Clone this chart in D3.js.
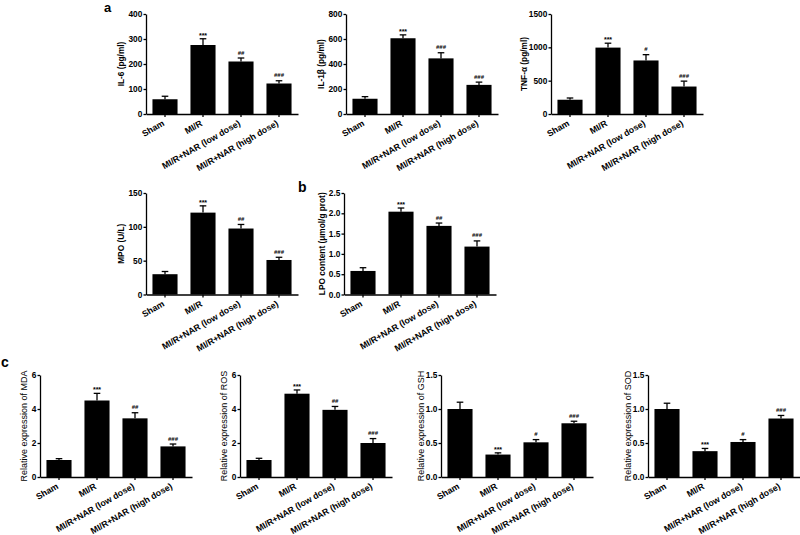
<!DOCTYPE html>
<html>
<head>
<meta charset="utf-8">
<script src="https://cdn.jsdelivr.net/npm/d3@7/dist/d3.min.js"></script>
<style>
	body { margin: 0; background: #fff; }
	svg { display: block; font-family: "Liberation Sans", Arial, sans-serif; }
	.axis path, .axis line { stroke: #000; stroke-width: 1.3; }
	.axis text { font-size: 8.3px; font-weight: bold; fill: #000; }
</style>
</head>
<body>
<svg id="chart" width="800" height="535"></svg>
<script>
	// groups on the x axis of every panel
	var groups = ["Sham", "MI/R", "MI/R+NAR (low dose)", "MI/R+NAR (high dose)"];

	// mean values and (upper) error per panel
	var il6 = [59, 276, 210, 122];
	var il6Err = [12, 25, 14, 11];
	var il1b = [122, 606, 445, 233];
	var il1bErr = [17, 27, 45, 22];
	var tnf = [214, 996, 803, 412];
	var tnfErr = [26, 66, 87, 81];
	var mpo = [30, 121, 97.5, 51];
	var mpoErr = [4, 10, 6, 4];
	var lpo = [0.58, 2.04, 1.69, 1.18];
	var lpoErr = [0.08, 0.09, 0.07, 0.14];
	var mda = [1.0, 4.5, 3.45, 1.8];
	var mdaErr = [0.08, 0.42, 0.33, 0.14];
	var ros = [1.0, 4.9, 3.95, 2.0];
	var rosErr = [0.1, 0.22, 0.2, 0.26];
	var gsh = [1.0, 0.33, 0.51, 0.79];
	var gshErr = [0.1, 0.025, 0.04, 0.03];
	var sod = [1.0, 0.38, 0.515, 0.86];
	var sodErr = [0.085, 0.04, 0.035, 0.045];

	// significance marks
	var marksA = ["", "***", "##", "###"];
	var marksB = ["", "***", "###", "###"];
	var marksC = ["", "***", "#", "###"];

	// tick labels
	var il6Ticks = [0, 100, 200, 300, 400];
	var il1bTicks = [0, 200, 400, 600, 800];
	var tnfTicks = [0, 500, 1000, 1500];
	var mpoTicks = [0, 50, 100, 150];
	var lpoTicks = [0, 0.5, 1.0, 1.5, 2.0, 2.5];
	var relTicks = [0, 2, 4, 6];
	var ratioTicks = [0, 0.5, 1.0, 1.5];

	var svg = d3.select("#chart");

	var rows = [
		{top: 14, bottom: 114, bold: true},
		{top: 193, bottom: 294.5, bold: true},
		{top: 375, bottom: 477, bold: false}
	];

	var panels = [
		{row: 0, left: 146, gap: 25, label: "IL-6 (pg/ml)", v: il6, e: il6Err, m: marksA, ticks: il6Ticks, fmt: "d"},
		{row: 0, left: 346, gap: 25, label: "IL-1β (pg/ml)", v: il1b, e: il1bErr, m: marksB, ticks: il1bTicks, fmt: "d"},
		{row: 0, left: 551, gap: 27, label: "TNF-α (pg/ml)", v: tnf, e: tnfErr, m: marksC, ticks: tnfTicks, fmt: "d"},
		{row: 1, left: 146, gap: 25, label: "MPO (U/L)", v: mpo, e: mpoErr, m: marksA, ticks: mpoTicks, fmt: "d"},
		{row: 1, left: 344, gap: 22, label: "LPO content (μmol/g prot)", v: lpo, e: lpoErr, m: marksA, ticks: lpoTicks, fmt: ".1f"},
		{row: 2, left: 40, gap: 16, label: "Relative expression of MDA", v: mda, e: mdaErr, m: marksA, ticks: relTicks, fmt: "d"},
		{row: 2, left: 240, gap: 16, label: "Relative expression of ROS", v: ros, e: rosErr, m: marksA, ticks: relTicks, fmt: "d"},
		{row: 2, left: 441, gap: 20, label: "Relative expression of GSH", v: gsh, e: gshErr, m: marksC, ticks: ratioTicks, fmt: ".1f"},
		{row: 2, left: 648, gap: 20, label: "Relative expression of SOD", v: sod, e: sodErr, m: marksC, ticks: ratioTicks, fmt: ".1f"}
	];

	function drawPanel(p) {
		var r = rows[p.row];
		var x = d3.scaleBand()
			.domain(groups)
			.range([p.left, p.left + 152])
			.paddingInner(0.34)
			.paddingOuter(0.17);
		var y = d3.scaleLinear()
			.domain([0, d3.max(p.ticks)])
			.range([r.bottom, r.top]);

		var g = svg.append("g");
		var w = x.bandwidth();

		//bars
		g.selectAll("rect")
			.data(p.v)
			.enter().append("rect")
			.attr("x", function(d, i) { return x(groups[i]); })
			.attr("y", function(d) { return y(d); })
			.attr("width", w)
			.attr("height", function(d) { return y(0) - y(d); })
			.attr("fill", "#000");

		//error bars (upper only)
		var eb = g.selectAll("g.err")
			.data(p.v)
			.enter().append("g")
			.attr("class", "err");
		eb.append("line")
			.attr("x1", function(d, i) { return x(groups[i]) + w / 2; })
			.attr("x2", function(d, i) { return x(groups[i]) + w / 2; })
			.attr("y1", function(d) { return y(d); })
			.attr("y2", function(d, i) { return y(d + p.e[i]); })
			.attr("stroke", "#000").attr("stroke-width", 1.3);
		eb.append("line")
			.attr("x1", function(d, i) { return x(groups[i]) + w / 2 - 3.3; })
			.attr("x2", function(d, i) { return x(groups[i]) + w / 2 + 3.3; })
			.attr("y1", function(d, i) { return y(d + p.e[i]); })
			.attr("y2", function(d, i) { return y(d + p.e[i]); })
			.attr("stroke", "#000").attr("stroke-width", 1.3);

		//marks
		g.selectAll("text.mark")
			.data(p.m)
			.enter().append("text")
			.attr("class", "mark")
			.attr("x", function(d, i) { return x(groups[i]) + w / 2; })
			.attr("y", function(d, i) {
				var top = y(p.v[i] + p.e[i]);
				return d.charAt(0) == "*" ? top - 1.2 : top - 3.5;
			})
			.attr("text-anchor", "middle")
			.style("font-size", function(d) { return d.charAt(0) == "*" ? "7px" : "6px"; })
			.style("font-weight", "bold")
			.text(function(d) { return d; });

		//axis
		g.append("g")
			.attr("class", "axis")
			.attr("transform", "translate(" + p.left + ",0)")
			.call(d3.axisLeft(y).tickValues(p.ticks).tickSize(2.5).tickSizeOuter(0).tickPadding(1.2).tickFormat(d3.format(p.fmt)));

		g.append("g")
			.attr("class", "axis")
			.attr("transform", "translate(0," + r.bottom + ")")
			.call(d3.axisBottom(x).tickSize(3).tickSizeOuter(0).tickFormat(""));

		g.selectAll("text.xl")
			.data(groups)
			.enter().append("text")
			.attr("class", "xl")
			.attr("transform", function(d) {
				return "translate(" + (x(d) + w / 2) + "," + (r.bottom + 11) + ") rotate(-30)";
			})
			.attr("text-anchor", "end")
			.style("font-size", "8.8px")
			.style("font-weight", "bold")
			.text(function(d) { return d; });

		//y label
		g.append("text")
			.attr("transform", "translate(" + (p.left - p.gap) + "," + ((r.top + r.bottom) / 2) + ") rotate(-90)")
			.attr("text-anchor", "middle")
			.attr("dy", "0.35em")
			.style("font-size", r.bold ? "8.3px" : "9px")
			.style("font-weight", r.bold ? "bold" : "normal")
			.text(p.label);
	}

	panels.forEach(drawPanel);

	//panel letters
	svg.append("text").attr("x", 104).attr("y", 12).text("a")
		.style("font-size", "13px").style("font-weight", "bold");
	svg.append("text").attr("x", 298).attr("y", 192).text("b")
		.style("font-size", "14px").style("font-weight", "bold");
	svg.append("text").attr("x", 1).attr("y", 367).text("c")
		.style("font-size", "14px").style("font-weight", "bold");
</script>
</body>
</html>
